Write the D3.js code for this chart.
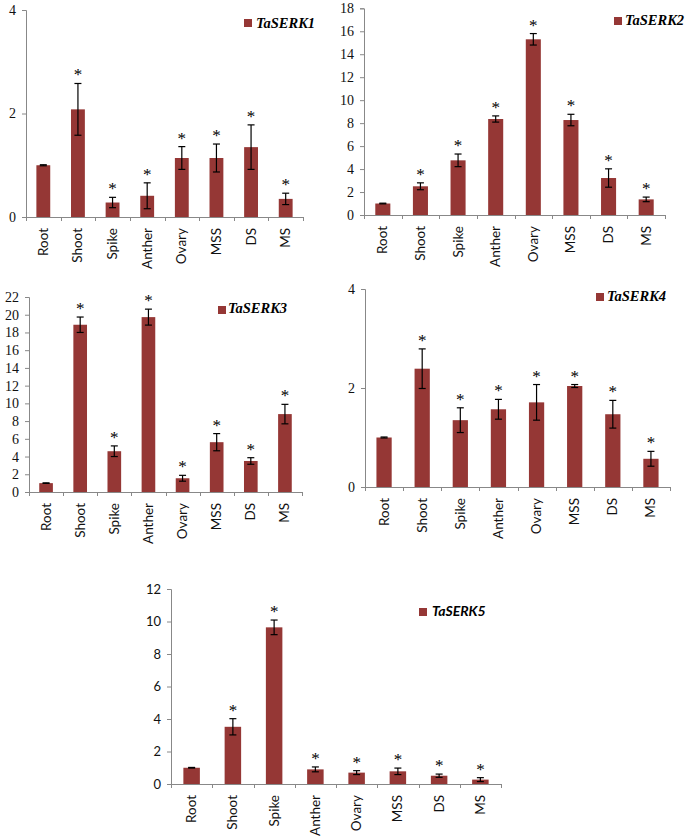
<!DOCTYPE html>
<html><head><meta charset="utf-8">
<script src="https://cdn.jsdelivr.net/npm/d3@7"></script>
<style>body{margin:0;background:#fff}svg{display:block}</style>
</head><body>
<script>
const categories = ["Root","Shoot","Spike","Anther","Ovary","MSS","DS","MS"];
const serk1 = [1.0,2.08,0.28,0.41,1.14,1.14,1.35,0.35];
const serk1Err = [0.01,0.5,0.1,0.25,0.22,0.27,0.43,0.11];
const serk2 = [1.0,2.5,4.76,8.36,15.3,8.27,3.22,1.36];
const serk2Err = [0.03,0.3,0.55,0.27,0.5,0.5,0.8,0.2];
const serk3 = [1.0,18.87,4.6,19.73,1.55,5.62,3.5,8.79];
const serk3Err = [0.03,0.87,0.6,0.9,0.33,0.97,0.37,1.1];
const serk4 = [1.0,2.39,1.35,1.57,1.71,2.04,1.47,0.57];
const serk4Err = [0.01,0.4,0.25,0.2,0.36,0.03,0.28,0.15];
const serk5 = [1.0,3.52,9.64,0.9,0.7,0.78,0.51,0.27];
const serk5Err = [0.02,0.5,0.45,0.15,0.12,0.2,0.1,0.12];
const significant = [false,true,true,true,true,true,true,true];
const ticks1 = [0,2,4];
const ticks2 = [0,2,4,6,8,10,12,14,16,18];
const ticks3 = [0,2,4,6,8,10,12,14,16,18,20,22];
const ticks4 = [0,2,4];
const ticks5 = [0,2,4,6,8,10,12];
const names = ["TaSERK1","TaSERK2","TaSERK3","TaSERK4","TaSERK5"];

const W = 685, H = 838;
const barColor = "#953735";
const SERIF = '"Liberation Serif"';
const SANS = '"Lato"';
const svg = d3.select("body").append("svg").attr("width", W).attr("height", H);

const panels = [
  {vals: serk1, err: serk1Err, ticks: ticks1, name: names[0], x0: 26, x1: 303, yb: 217, yt: 10, serif: true, leg: [244, 19, 256, 28]},
  {vals: serk2, err: serk2Err, ticks: ticks2, name: names[1], x0: 364, x1: 665, yb: 215, yt: 8.3, serif: true, leg: [614, 17, 625, 25]},
  {vals: serk3, err: serk3Err, ticks: ticks3, name: names[2], x0: 29, x1: 302, yb: 492, yt: 297, serif: true, leg: [218, 306, 228, 313]},
  {vals: serk4, err: serk4Err, ticks: ticks4, name: names[3], x0: 365, x1: 670, yb: 487, yt: 289, serif: true, leg: [596, 293, 607, 301]},
  {vals: serk5, err: serk5Err, ticks: ticks5, name: names[4], x0: 171, x1: 501, yb: 784, yt: 589, serif: false, leg: [419, 608, 432, 616]}
];

panels.forEach(p => {
  const g = svg.append("g");
  const tmax = p.ticks[p.ticks.length - 1];
  const y = d3.scaleLinear().domain([0, tmax]).range([p.yb, p.yt]);
  const x = d3.scaleBand().domain(categories).range([p.x0, p.x1]).paddingInner(0.6).paddingOuter(0.3);
  const band = (p.x1 - p.x0) / categories.length;

  const ya = g.append("g").attr("transform", `translate(${p.x0},0)`)
    .call(d3.axisLeft(y).tickValues(p.ticks).tickSize(4).tickPadding(6).tickFormat(d3.format("d")));
  ya.attr("font-family", null).attr("font-size", null);
  ya.select(".domain").attr("stroke", "#888");
  ya.selectAll(".tick line").attr("stroke", "#888");
  ya.selectAll("text").attr("fill", "#111")
    .style("font-family", p.serif ? SERIF : SANS)
    .style("font-size", p.serif ? "14px" : "13px");

  g.append("line").attr("x1", p.x0).attr("x2", p.x1).attr("y1", p.yb + 0.5).attr("y2", p.yb + 0.5).attr("stroke", "#888");
  d3.range(categories.length + 1).forEach(i => {
    const xx = Math.round(p.x0 + i * band) + 0.5;
    g.append("line").attr("x1", xx).attr("x2", xx).attr("y1", p.yb).attr("y2", p.yb + 4).attr("stroke", "#888");
  });

  g.selectAll("rect.bar").data(p.vals).enter().append("rect")
    .attr("x", (d, i) => x(categories[i])).attr("width", x.bandwidth())
    .attr("y", d => y(d)).attr("height", d => p.yb - y(d))
    .attr("fill", barColor);

  p.vals.forEach((v, i) => {
    const cx = x(categories[i]) + x.bandwidth() / 2;
    const hi = y(v + p.err[i]), lo = y(Math.max(0, v - p.err[i]));
    g.append("line").attr("x1", cx).attr("x2", cx).attr("y1", hi).attr("y2", lo).attr("stroke", "#000").attr("stroke-width", 1.2);
    [hi, lo].forEach(yy => g.append("line").attr("x1", cx - 3.5).attr("x2", cx + 3.5).attr("y1", yy).attr("y2", yy).attr("stroke", "#000").attr("stroke-width", 1.2));
    if (significant[i]) {
      g.append("text").attr("x", cx).attr("y", hi - 3).attr("text-anchor", "middle")
        .style("font-family", SERIF).style("font-size", "17px").attr("fill", "#000").text("*");
    }
  });

  categories.forEach((c, i) => {
    const cx = x(c) + x.bandwidth() / 2;
    g.append("text").attr("transform", `translate(${cx + 4.5},${p.yb + 11}) rotate(-90)`)
      .attr("text-anchor", "end").style("font-family", SANS).style("font-size", "13.5px").attr("fill", "#111").text(c);
  });

  g.append("rect").attr("x", p.leg[0]).attr("y", p.leg[1]).attr("width", 8).attr("height", 8).attr("fill", barColor);
  g.append("text").attr("x", p.leg[2]).attr("y", p.leg[3])
    .style("font-family", p.serif ? SERIF : SANS)
    .style("font-weight", "bold").style("font-style", "italic").style("font-size", p.serif ? "14.5px" : "14px").attr("fill", "#000").text(p.name);
});
</script>
</body></html>
